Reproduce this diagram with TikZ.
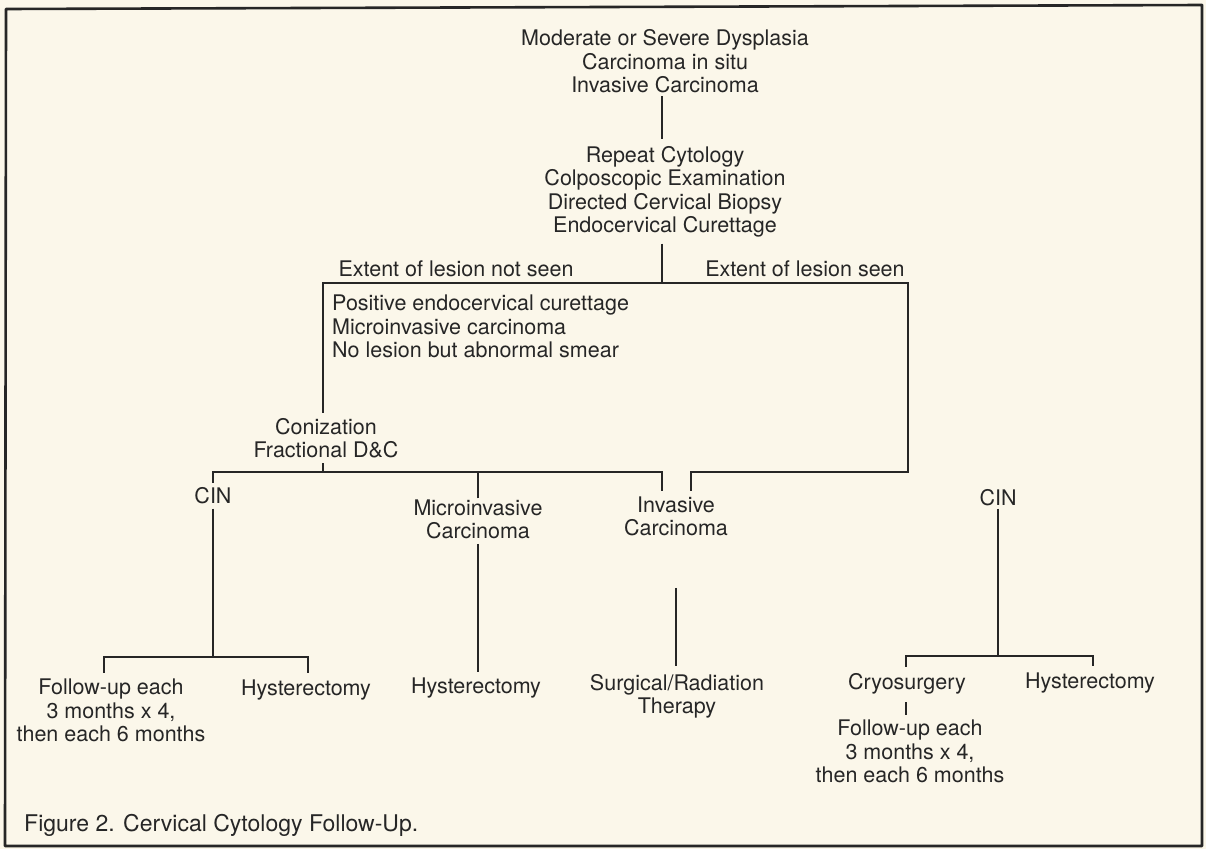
\documentclass[tikz,border=0pt]{standalone}
\usepackage{fontspec}
\setmainfont{TeX Gyre Heros}
\usetikzlibrary{calc}
\definecolor{paper}{HTML}{FBF7EA}
\definecolor{ink}{HTML}{262626}
\begin{document}
\begin{tikzpicture}[x=1pt,y=-1pt,
  txt/.style={inner sep=0pt, text=ink, font=\fontsize{21.5}{23.5}\selectfont, align=center, anchor=base},
  ln/.style={draw=ink, line width=2.4pt},
  frame/.style={draw=ink, line width=2.6pt, line join=round}]
\useasboundingbox (0,0) rectangle (1206,849);
\fill[paper] (0,0) rectangle (1206,849);
\draw[frame] (5,846) -- (6,9) -- (1202,5) -- (1202,846) -- cycle;

% nodes (anchor base = baseline of the last line)
\node[txt] (top) at (665,92.7) {Moderate or Severe Dysplasia\\Carcinoma in situ\\Invasive Carcinoma};
\node[txt] (proc) at (665,232.7) {Repeat Cytology\\Colposcopic Examination\\Directed Cervical Biopsy\\Endocervical Curettage};
\node[txt] (notseen) at (456,276) {Extent of lesion not seen};
\node[txt] (seen) at (805,276) {Extent of lesion seen};
\node[txt, align=left, anchor=base west] (list) at (332,357.7) {Positive endocervical curettage\\Microinvasive carcinoma\\No lesion but abnormal smear};
\node[txt] (conz) at (326,457.7) {Conization\\Fractional D\&C};
\node[txt] (cinL) at (213,503) {CIN};
\node[txt] (micro) at (478,538.7) {Microinvasive\\Carcinoma};
\node[txt] (invas) at (676,535.7) {Invasive\\Carcinoma};
\node[txt] (cinR) at (998,505) {CIN};
\node[txt] (fuL) at (111,741.7) {Follow-up each\\3 months x 4,\\then each 6 months};
\node[txt] (hyst1) at (306,695) {Hysterectomy};
\node[txt] (hyst2) at (476,693) {Hysterectomy};
\node[txt] (surg) at (677,713.7) {Surgical/Radiation\\Therapy};
\node[txt] (cryo) at (907,689) {Cryosurgery};
\node[txt] (hyst3) at (1090,688) {Hysterectomy};
\node[txt] (fuR) at (910,782.7) {Follow-up each\\3 months x 4,\\then each 6 months};
\node[txt, anchor=base west, font=\fontsize{23}{25}\selectfont] (cap) at (24,831) {Figure 2. Cervical Cytology Follow-Up.};

% bar levels
\coordinate (yA) at (0,283);
\coordinate (yB) at (0,472);
\coordinate (yC) at (0,657);
\coordinate (yD) at (0,656);
\coordinate (xP) at ($(proc.south)+(-3,0)$);
\coordinate (xR) at ($(seen.east)+(3,0)$);
\coordinate (xC) at ($(conz.south)+(-3,0)$);
\coordinate (xI) at ($(invas.north)+(-14,0)$);
\coordinate (xH1) at ($(hyst1.north)+(2,-6)$);
\coordinate (xH3) at ($(hyst3.north)+(3,-6)$);

% connectors
\draw[ln] ($(top.south)+(-3,3)$) -- ($(proc.north)+(-3,-7)$);
\draw[ln] ($(proc.south)+(-3,6)$) -- (xP |- yA);
\draw[ln] ($(conz.north)+(-3,-5)$) |- (xR |- yA) -- (xR |- yB) -| ($(invas.north)+(15,-5)$);
\draw[ln] ($(conz.south)+(-3,5)$) -- (xC |- yB);
\draw[ln] ($(cinL.north)+(0,-4)$) |- (xI |- yB) -- ($(invas.north)+(-14,-5)$);
\draw[ln] ($(micro.north)+(0,-1)$) -- (micro.north |- yB);
\draw[ln] ($(cinL.south)+(0,5)$) -- (cinL.south |- yC);
\draw[ln] ($(fuL.north)+(-7,-6)$) |- (xH1 |- yC) -- (xH1);
\draw[ln] ($(micro.south)+(0,4.5)$) -- ($(hyst2.north)+(2,-5)$);
\draw[ln] ($(invas.south)+(0,51.5)$) -- ($(surg.north)+(-1,-8)$);
\draw[ln] ($(cinR.south)+(0,3)$) -- (cinR.south |- yD);
\draw[ln] ($(cryo.north)+(-1,-6)$) |- (xH3 |- yD) -- (xH3);
\draw[ln] ($(cryo.south)+(-1,8.5)$) -- ($(fuR.north)+(-4,-5)$);
\end{tikzpicture}
\end{document}
